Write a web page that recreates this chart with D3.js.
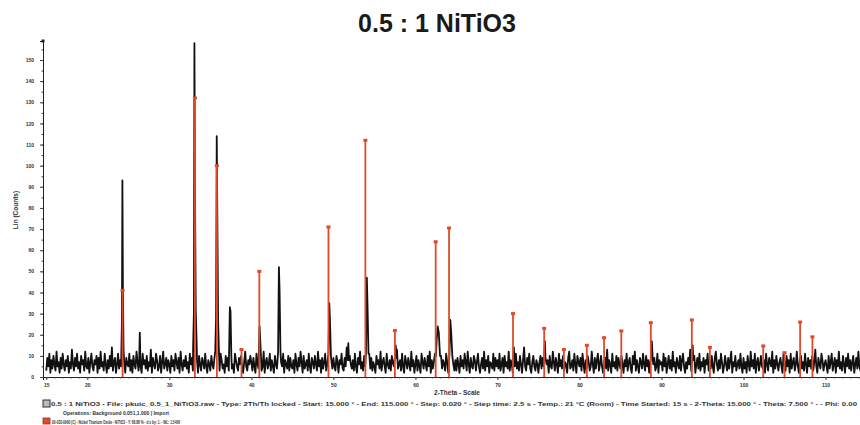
<!DOCTYPE html>
<html><head><meta charset="utf-8">
<script src="https://cdn.jsdelivr.net/npm/d3@7"></script>
<style>
html,body{margin:0;padding:0;background:#fff;}
svg{display:block;font-family:"Liberation Sans",Arial,sans-serif;}
</style></head>
<body><svg id="c" width="860" height="425"></svg>
<script>
// ---------- DATA ----------
const title = "0.5 : 1 NiTiO3";
const xTickValues = [15, 20, 30, 40, 50, 60, 70, 80, 90, 100, 110];
const yTickValues = [0, 10, 20, 30, 40, 50, 60, 70, 80, 90, 100, 110, 120, 130, 140, 150];
const scanStart = 15.0;     // 2-theta of first background value
const scanStep = 0.125;     // 2-theta spacing of background values
// background noise counts
const backgroundCounts = [
3,9,5,11,2,8,4,10,6,3,12,5,7,2,9,4,11,6,3,8,5,10,2,7,4,13,6,3,9,5,11,4,7,2,10,6,8,3,12,5,
4,9,2,7,11,5,3,8,6,10,2,9,4,12,5,7,3,11,6,2,8,4,10,5,14,3,7,9,2,6,11,4,8,5,3,10,7,2,9,6,
5,11,3,8,2,10,6,4,12,7,3,9,5,2,11,6,8,4,10,3,7,5,13,2,9,6,4,11,8,3,5,10,2,7,12,4,6,9,3,8,
6,2,10,5,8,3,11,7,4,9,2,12,6,3,8,5,10,4,7,2,11,6,9,3,5,15,4,8,2,10,6,3,9,7,4,11,5,2,8,6,
3,10,6,4,9,2,12,5,7,3,11,8,4,6,2,10,5,9,3,7,13,4,6,2,11,8,5,3,9,6,10,4,2,7,12,5,3,8,6,10,
7,3,9,5,2,11,6,4,10,8,3,5,12,2,7,9,4,6,11,3,8,5,2,10,6,4,9,13,3,7,5,11,2,8,6,4,10,3,9,5,
4,8,2,11,6,3,9,5,12,7,2,10,4,6,8,3,11,5,2,9,7,4,10,6,3,12,5,8,2,9,4,7,11,3,6,10,5,2,8,4,
9,5,3,10,7,2,8,6,11,4,3,9,5,14,2,7,10,6,4,8,3,11,5,2,9,6,12,4,7,3,10,5,8,2,6,11,4,9,3,7,
5,2,10,6,8,4,12,3,7,9,5,2,11,6,4,8,3,10,7,5,2,9,13,4,6,8,3,11,5,2,10,7,4,9,6,3,12,5,8,2,
6,10,3,8,5,2,11,7,4,9,6,3,10,5,12,2,8,4,7,11,3,6,9,5,2,10,4,8,6,3,11,7,2,9,5,4,13,6,3,8,
3,9,6,2,10,5,8,4,11,7,3,12,6,2,9,5,4,10,8,3,7,11,5,2,6,9,4,12,3,8,5,10,2,7,6,4,11,3,9,5,
8,4,11,3,6,9,2,10,5,7,4,12,3,8,6,2,9,5,11,4,7,3,10,6,2,8,14,5,3,9,6,11,4,2,7,10,5,3,8,6,
2,7,10,4,9,5,3,11,6,8,2,10,5,4,12,7,3,9,6,2,11,5,8,4,10,3,7,6,2,9,12,4,5,8,3,11,6,2,10,7,
5,9,3,11,6,2,8,4,10,7,3,5,12,6,2,9,4,8,11,3,6,10,5,2,7,9,4,13,3,8,6,2,11,5,7,4,10,3,9,6,
4,10,6,2,8,5,11,3,7,9,4,2,10,6,12,3,8,5,2,9,7,4,11,6,3,10,5,8,2,7,12,4,6,9,3,5,11,2,8,6,
7,3,11,5,9,2,6,10,4,8,3,12,5,7,2,9,6,4,10,3,8,11,5,2,7,4,9,6,13,3,8,5,10,2,6,9,4,11,3,7,
5,9,2,8,6,11,3,7,4,10,5,2,9,12,6,3,8,4,11,7,2,5,10,6,3,9,4,8,12,2,7,5,10,3,6,8,4,11,5,2,
9,4,7,2,10,6,3,12,5,8,4,11,2,7,9,3,6,10,5,4,8,2,11,6,3,9,7,5,12,2,8,4,10,6,3,7,9,5,2,11,
6,3,10,5,8,2,11,4,7,9,3,6,12,5,2,8,10,4,7,3,11,6,2,9,5,8,4,10,3,7,13,5,2,9,6,4,11,8,3,6,
8,5,2,10,4,7,11,3,6,9,2,8,5,12,4,7,3,10,6,2,9,5,11,4,8,3,7,10,2,6,9,4,12,5,3,8,6,10,2,7
];
// measured diffraction peaks: [2-theta, counts] profile points
const peakProfiles = [
  [[24.15,11],[24.22,26],[24.28,93],[24.34,42],[24.42,13]],
  [[26.33,8],[26.4,21],[26.47,9]],
  [[32.9,14],[33.0,31],[33.06,158],[33.12,96],[33.22,32],[33.35,13]],
  [[35.6,12],[35.7,28],[35.78,114],[35.86,72],[35.95,26],[36.05,12]],
  [[37.28,10],[37.38,33],[37.46,31],[37.56,10]],
  [[40.9,10],[41.0,24],[41.08,18],[41.18,9]],
  [[43.26,12],[43.36,52],[43.44,41],[43.55,12]],
  [[49.4,11],[49.5,35],[49.58,27],[49.7,10]],
  [[51.75,8],[51.82,16],[51.9,8]],
  [[53.98,12],[54.08,47],[54.16,34],[54.28,11]],
  [[57.5,9],[57.6,15],[57.7,9]],
  [[62.5,10],[62.6,18],[62.72,24],[62.85,21],[63.0,10]],
  [[64.15,11],[64.25,27],[64.35,22],[64.5,10]],
  [[71.92,9],[72.0,14],[72.08,8]],
  [[75.7,8],[75.78,17],[75.86,9]],
  [[88.72,9],[88.82,17],[88.92,9]],
  [[93.72,8],[93.8,15],[93.88,8]]
];
// reference pattern 00-033-0960 NiTiO3 sticks: 2-theta and counts
const refTheta  = [24.3, 33.12, 35.8, 38.8, 40.97, 49.4, 53.9, 57.5, 62.47, 64.1, 71.9, 75.7, 78.1, 80.9, 83.0, 85.1, 88.7, 93.7, 95.9, 102.4, 105.0, 106.9, 108.4];
const refCounts = [41, 132, 100, 13, 50, 71, 112, 22, 64, 70.5, 30, 23, 13, 15, 18.6, 21.8, 25.7, 27, 14, 14.7, 11.5, 26, 19];

const xTitle = "2-Theta - Scale";
const yTitle = "Lin (Counts)";
const legend1 = "0.5 : 1 NiTiO3 - File: pkuic_0.5_1_NiTiO3.raw - Type: 2Th/Th locked - Start: 15.000 \u00b0 - End: 115.000 \u00b0 - Step: 0.020 \u00b0 - Step time: 2.5 s - Temp.: 21 \u00b0C (Room) - Time Started: 15 s - 2-Theta: 15.000 \u00b0 - Theta: 7.500 \u00b0 - - Phi: 0.00";
const legend2 = "Operations: Background 0.051,1.000 | Import";
const legend3 = "00-033-0960 (C) - Nickel Titanium Oxide - NiTiO3 - Y: 68.88 % - d x by: 1. - WL: 1.5406";

// ---------- CHART ----------
const svg = d3.select("#c");
const L = 43, R = 860, T = 41, B = 377;
const x = d3.scaleLinear().domain([14.6, 114.2]).range([L, R]);
const y = d3.scaleLinear().domain([0, 159]).range([B, T]);

svg.append("defs").append("clipPath").attr("id","clip")
  .append("rect").attr("x",L).attr("y",T-5).attr("width",R-L).attr("height",B-T+5);

// build observed pattern
const spans = peakProfiles.map(p => [p[0][0], p[p.length-1][0]]);
let pts = backgroundCounts.map((c,i) => [scanStart + i*scanStep, c])
  .filter(p => !spans.some(s => p[0] >= s[0]-0.02 && p[0] <= s[1]+0.02));
peakProfiles.forEach(p => p.forEach(q => pts.push(q)));
pts.sort((a,b) => a[0]-b[0]);

const g = svg.append("g").attr("clip-path","url(#clip)");

// observed line
g.append("path").datum(pts)
  .attr("fill","none").attr("stroke","#111").attr("stroke-width",1.8)
  .attr("stroke-linejoin","round")
  .attr("d", d3.line().x(d=>x(d[0])).y(d=>y(d[1])));

// reference sticks (drawn over the scan)
const refColor = "#e2492b";
const sticks = g.selectAll(".stick").data(refTheta.map((t,i)=>[t, refCounts[i]])).enter();
sticks.append("line")
  .attr("x1", d=>x(d[0])).attr("x2", d=>x(d[0]))
  .attr("y1", y(0)).attr("y2", d=>y(d[1]))
  .attr("stroke", refColor).attr("stroke-width", 1.8);
sticks.append("rect")
  .attr("x", d=>x(d[0])-2).attr("y", d=>y(d[1])-1.5)
  .attr("width",4).attr("height",3).attr("fill",refColor);

// axes
const fontCol = "#333";
const xAxis = svg.append("g").attr("transform",`translate(0,${B})`)
  .call(d3.axisBottom(x).tickValues(xTickValues).tickSize(3).tickPadding(3).tickFormat(d3.format("d")));
const xMinor = svg.append("g").attr("transform",`translate(0,${B})`)
  .call(d3.axisBottom(x).tickValues(d3.range(15, 115, 1)).tickSize(1.5).tickFormat(""));
const yAxis = svg.append("g").attr("transform",`translate(${L},0)`)
  .call(d3.axisLeft(y).tickValues(yTickValues).tickSize(3).tickPadding(6).tickFormat(d3.format("d")));
const yMinor = svg.append("g").attr("transform",`translate(${L},0)`)
  .call(d3.axisLeft(y).tickValues(d3.range(0, 159, 5)).tickSize(1.5).tickFormat(""));
[xAxis, xMinor, yAxis, yMinor].forEach(a => {
  a.select(".domain").attr("stroke","#222").attr("stroke-width",1);
  a.selectAll(".tick line").attr("stroke","#444");
  a.selectAll("text").attr("font-size",5).attr("font-weight","bold").attr("fill",fontCol)
    .attr("font-family","'Liberation Sans',Arial,sans-serif");
});
xMinor.select(".domain").remove();
yMinor.select(".domain").remove();
// axis end marker
svg.append("rect").attr("x",L-1.5).attr("y",T-1.5).attr("width",3).attr("height",3).attr("fill","#222");

// titles
svg.append("text").attr("x",437).attr("y",32).attr("text-anchor","middle")
  .attr("font-size",25).attr("font-weight","bold").attr("fill","#1a1a1a").text(title);
svg.append("text").attr("x",457).attr("y",395).attr("text-anchor","middle")
  .attr("font-size",6.5).attr("font-weight","bold").attr("fill",fontCol).text(xTitle);
svg.append("text").attr("transform","translate(18,210) rotate(-90)").attr("text-anchor","middle")
  .attr("font-size",6.5).attr("font-weight","bold").attr("fill",fontCol).text(yTitle);

// legend
svg.append("rect").attr("x",43).attr("y",400).attr("width",7).attr("height",7)
  .attr("fill","#bbb").attr("stroke","#333").attr("stroke-width",1);
svg.append("text").attr("x",51).attr("y",406).attr("font-size",6).attr("font-weight","bold")
  .attr("fill",fontCol).attr("textLength",806).attr("lengthAdjust","spacingAndGlyphs").text(legend1);
svg.append("text").attr("x",63).attr("y",415).attr("font-size",6).attr("font-weight","bold")
  .attr("fill",fontCol).attr("textLength",106).attr("lengthAdjust","spacingAndGlyphs").text(legend2);
svg.append("rect").attr("x",43).attr("y",418).attr("width",7).attr("height",6)
  .attr("fill",refColor).attr("stroke","#933").attr("stroke-width",0.8);
svg.append("text").attr("x",52).attr("y",424).attr("font-size",6).attr("font-weight","bold")
  .attr("fill",fontCol).attr("textLength",128).attr("lengthAdjust","spacingAndGlyphs").text(legend3);
</script></body></html>
